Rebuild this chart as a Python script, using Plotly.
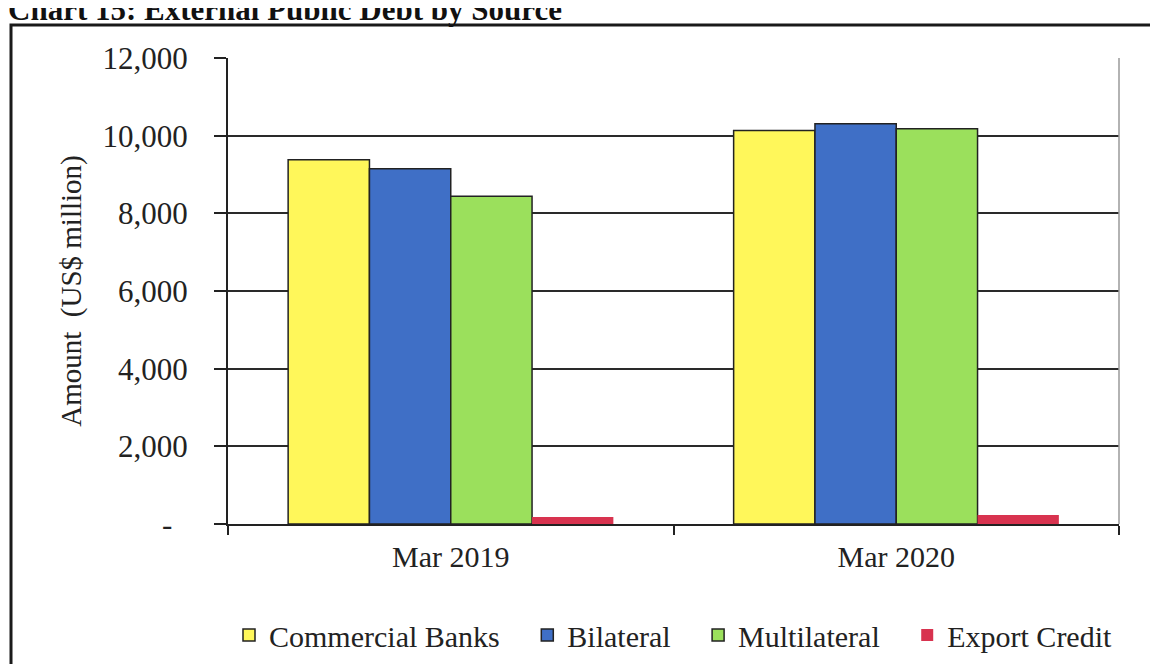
import plotly.graph_objects as go

# Chart 15: External Public Debt by Source (US$ million)
periods = ["Mar 2019", "Mar 2020"]
commercial_banks = [9380, 10130]
bilateral = [9150, 10310]
multilateral = [8440, 10180]
export_credit = [180, 230]

series_names = ["Commercial Banks", "Bilateral", "Multilateral", "Export Credit"]
series_values = [commercial_banks, bilateral, multilateral, export_credit]
series_colors = ["#FFF75A", "#3F6FC6", "#9BE05C", "#D8334F"]

y_ticks = [0, 2000, 4000, 6000, 8000, 10000, 12000]
y_ticktext = ["-\u00a0\u00a0", "2,000", "4,000", "6,000", "8,000", "10,000", "12,000"]

FONT = "Liberation Serif, Times New Roman, serif"

# the page body adds an 8px offset, so the figure is a bit smaller than the window
OFF = 8
W, H = 1158 - OFF, 664 - OFF
L, R, T, B = 228 - OFF, 39, 58 - OFF, 140
pw, ph = W - L - R, H - T - B


def px_x(x):
    # screen pixel -> paper x
    return (x - OFF - L) / pw


def px_y(y):
    # screen pixel -> paper y
    return (H - B - (y - OFF)) / ph


fig = go.Figure()
for name, vals, col in zip(series_names, series_values, series_colors):
    # trailing spaces widen the gap between legend entries
    label = name if name == "Export Credit" else name + "\u00a0\u00a0\u00a0"
    fig.add_trace(go.Bar(
        name=label,
        x=periods,
        y=vals,
        marker=dict(color=col,
                    line=dict(color="#222222", width=0 if name == "Export Credit" else 1.5)),
    ))

fig.update_layout(
    width=W, height=H,
    barmode="group",
    bargap=0.27,
    bargroupgap=0,
    paper_bgcolor="white",
    plot_bgcolor="white",
    font=dict(family=FONT, size=30, color="#222222"),
    margin=dict(l=L, r=R, t=T, b=B, autoexpand=False),
    showlegend=True,
    legend=dict(
        orientation="h",
        x=0.5, xanchor="center",
        y=px_y(635), yanchor="middle",
        font=dict(family=FONT, size=30, color="#222222"),
        itemwidth=30,
        bgcolor="rgba(0,0,0,0)",
    ),
    xaxis=dict(
        type="category",
        automargin=False,
        showline=True, linecolor="#222222", linewidth=2,
        ticks="outside", tickson="boundaries", ticklen=9, tickwidth=2, tickcolor="#222222",
        ticklabelstandoff=5,
        showgrid=False,
    ),
    yaxis=dict(
        range=[0, 12000],
        automargin=False,
        tickvals=y_ticks, ticktext=y_ticktext,
        tickfont=dict(size=31),
        showline=True, linecolor="#222222", linewidth=2,
        ticks="outside", ticklen=12, tickwidth=2, tickcolor="#222222",
        ticklabelstandoff=20,
        showgrid=True, gridcolor="#2a2a2a", gridwidth=1.5,
        zeroline=False,
        title=dict(text="Amount  (US$ million)", standoff=12,
                   font=dict(family=FONT, size=29, color="#222222")),
    ),
    annotations=[dict(
        text="<b>Chart 15: External Public Debt by Source</b>",
        xref="paper", yref="paper",
        x=px_x(6), y=px_y(10), xanchor="left", yanchor="middle",
        showarrow=False,
        font=dict(family=FONT, size=31, color="#111111"),
    )],
    shapes=[
        # outer frame of the chart box
        dict(type="rect", xref="paper", yref="paper",
             x0=px_x(11), x1=px_x(1158 + 20), y0=px_y(25), y1=px_y(664 + 20),
             line=dict(color="#1a1a1a", width=3)),
        # thin grey right border of the plot area
        dict(type="line", xref="paper", yref="paper",
             x0=1, x1=1, y0=0, y1=1,
             line=dict(color="#9a9a9a", width=1.5)),
    ],
)

fig.write_html("out.html")
